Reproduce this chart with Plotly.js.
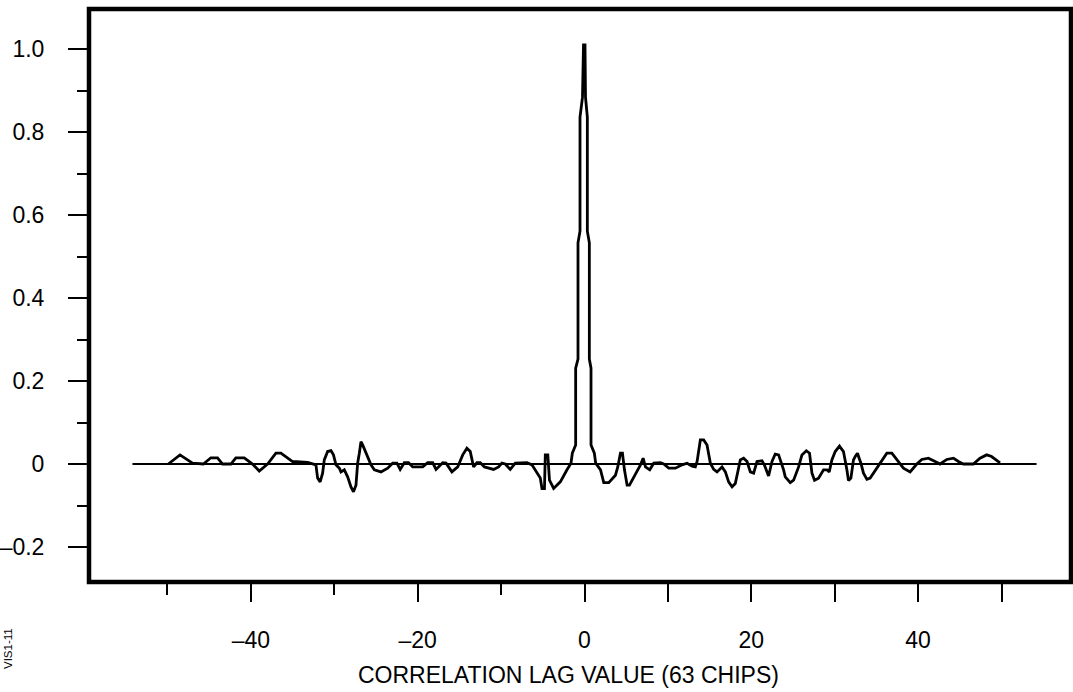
<!DOCTYPE html>
<html>
<head>
<meta charset="utf-8">
<script src="https://cdn.plot.ly/plotly-3.0.1.min.js"></script>
<style>html,body{margin:0;padding:0;background:#fff;}#chart{width:1073px;height:692px;}</style>
</head>
<body>
<div id="chart"></div>
<script>
// Correlation lag values (chips) and normalized correlation
const lagValues = [
-49.9,-48.5,-47.0,-45.7,-44.8,-44.0,-43.4,-42.4,-41.8,-40.8,-39.8,-39.0,-38.0,-37.0,-36.4,-35.0,-33.2,
-32.2,-32.0,-31.7,-31.4,-31.2,-30.8,-30.4,-30.1,-29.8,-29.4,-29.2,-28.8,-28.4,-28.0,-27.7,-27.4,-27.2,
-27.0,-26.8,-26.6,-26.2,-25.6,-25.2,-24.4,-23.6,-23.0,-22.5,-22.1,-21.6,-21.1,-20.6,-19.4,-18.8,-18.2,
-17.8,-17.0,-16.6,-15.9,-15.2,-14.6,-14.1,-13.7,-13.3,-12.9,-12.5,-12.0,-10.9,-10.3,-9.9,-9.5,-8.9,-8.3,
-6.9,-6.3,-5.3,-5.1,-4.8,-4.7,-4.4,-4.2,-3.7,-2.9,-2.1,
-1.62,-1.46,-1.06,-1.06,-0.78,-0.78,-0.54,-0.54,-0.24,-0.12,0.06,0.12,0.34,0.34,0.58,0.58,0.78,0.78,1.18,1.34,
1.92,2.31,2.91,3.71,3.99,4.31,4.55,4.79,5.11,5.39,5.71,6.71,7.03,7.31,7.82,8.30,9.10,9.50,10.10,10.90,
11.70,12.30,12.90,13.29,13.50,13.89,14.29,14.69,15.09,15.49,15.89,16.49,16.89,17.28,17.69,18.08,18.68,
19.08,19.49,19.88,20.28,20.68,21.28,21.56,22.07,22.48,22.87,23.27,23.87,24.07,24.67,25.07,25.67,26.07,
26.59,26.98,27.27,27.58,28.06,28.66,29.07,29.34,29.66,30.06,30.57,31.05,31.46,31.65,31.94,32.25,32.46,
32.73,32.93,33.14,33.45,33.86,34.25,35.05,35.65,36.25,36.85,37.64,38.24,39.04,39.84,40.44,41.23,42.04,
42.63,43.44,44.23,44.83,45.42,46.62,47.42,48.22,48.81,49.82
];
const correlation = [
0.0,0.022,0.002,0.0,0.015,0.015,0.0,0.0,0.015,0.015,0.0,-0.017,0.0,0.026,0.026,0.006,0.004,
-0.002,-0.034,-0.043,-0.022,0.010,0.030,0.032,0.022,-0.002,-0.010,-0.019,-0.014,-0.031,-0.055,-0.067,-0.051,0.002,
0.026,0.054,0.046,0.026,-0.002,-0.014,-0.019,-0.010,0.002,0.002,-0.013,0.003,0.003,-0.007,-0.007,0.003,0.003,
-0.013,0.003,0.002,-0.019,-0.007,0.022,0.038,0.030,-0.007,0.003,0.003,-0.007,-0.013,-0.007,0.002,0.0,-0.013,0.002,
0.003,-0.002,-0.034,-0.059,-0.059,0.022,0.022,-0.039,-0.059,-0.043,-0.014,
0.002,0.026,0.046,0.231,0.253,0.533,0.561,0.836,0.884,1.01,1.01,0.884,0.836,0.561,0.533,0.253,0.231,0.046,0.026,0.002,
-0.014,-0.045,-0.045,-0.027,-0.007,0.026,0.026,-0.014,-0.051,-0.051,-0.039,-0.002,0.014,-0.007,-0.014,0.002,0.003,0.0,-0.010,-0.010,
-0.002,0.002,-0.005,-0.007,0.006,0.058,0.058,0.046,0.002,-0.013,-0.019,-0.007,-0.019,-0.043,-0.055,-0.047,0.010,
0.014,0.006,-0.019,-0.022,0.006,0.008,-0.002,-0.029,0.006,0.024,0.022,-0.014,-0.031,-0.045,-0.039,-0.007,0.022,
0.032,0.026,-0.022,-0.039,-0.034,-0.014,-0.014,-0.019,0.010,0.030,0.043,0.030,-0.014,-0.040,-0.034,0.010,0.018,
0.026,0.014,0.002,-0.022,-0.037,-0.034,-0.010,0.006,0.026,0.026,0.006,-0.010,-0.019,0.0,0.011,0.014,0.006,
0.0,0.011,0.014,0.006,0.0,0.0,0.014,0.022,0.018,0.003
];
// Reference (zero) line extent
const baselineX = [-54.2, 54.2];
const baselineY = [0, 0];

// Axis ticks
const xMajorVals = [-40, -20, 0, 10, 20, 30, 40, 50];
const xMajorText = ['\u201340', '\u201320', '0', '', '20', '', '40', ''];
const xMinorVals = [-50, -30, -10];
const yMajorVals = [-0.2, 0, 0.2, 0.4, 0.6, 0.8, 1.0];
const yMajorText = ['\u20130.2', '0', '0.2', '0.4', '0.6', '0.8', '1.0'];
const yMinorVals = [-0.1, 0.1, 0.3, 0.5, 0.7, 0.9];

const W = 1073, H = 692;
const M = {l: 89, r: 2, t: 9, b: 110};
const pw = W - M.l - M.r, ph = H - M.t - M.b;
function px(x) { return (x - M.l) / pw; }
function py(y) { return (H - M.b - y) / ph; }

const FONT = 'Liberation Sans, Arial, sans-serif';

const traces = [
  {x: baselineX, y: baselineY, type: 'scatter', mode: 'lines',
   line: {color: '#000', width: 2}, hoverinfo: 'skip', showlegend: false},
  {x: lagValues, y: correlation, type: 'scatter', mode: 'lines',
   line: {color: '#000', width: 2.8, shape: 'linear'}, showlegend: false}
];

const layout = {
  width: W, height: H,
  margin: M,
  paper_bgcolor: '#fff', plot_bgcolor: '#fff',
  font: {family: FONT, color: '#000', size: 23},
  showlegend: false,
  xaxis: {
    range: [-59.41, 58.33],
    showgrid: false, zeroline: false, showline: false,
    tickmode: 'array', tickvals: xMajorVals, ticktext: xMajorText,
    ticks: 'outside', ticklen: 19, tickwidth: 2, tickcolor: '#000',
    ticklabelstandoff: 18,
    tickfont: {family: FONT, size: 23, color: '#000'},
    minor: {tickmode: 'array', tickvals: xMinorVals, ticks: 'outside', ticklen: 12, tickwidth: 2, tickcolor: '#000', showgrid: false}
  },
  yaxis: {
    range: [-0.2843, 1.0964],
    showgrid: false, zeroline: false, showline: false,
    tickmode: 'array', tickvals: yMajorVals, ticktext: yMajorText,
    ticks: 'outside', ticklen: 20, tickwidth: 2, tickcolor: '#000',
    ticklabelstandoff: 19,
    tickfont: {family: FONT, size: 23, color: '#000'},
    minor: {tickmode: 'array', tickvals: yMinorVals, ticks: 'outside', ticklen: 11, tickwidth: 2, tickcolor: '#000', showgrid: false}
  },
  shapes: [
    {type: 'rect', xref: 'paper', yref: 'paper', x0: 0, x1: 1, y0: 0, y1: 1,
     line: {color: '#000', width: 4.5}, fillcolor: 'rgba(0,0,0,0)', layer: 'above'}
  ],
  annotations: [
    {text: 'CORRELATION LAG VALUE (63 CHIPS)', xref: 'paper', yref: 'paper',
     x: px(568), y: py(675), xanchor: 'center', yanchor: 'middle', showarrow: false,
     font: {family: FONT, size: 23, color: '#000'}},
    {text: 'VIS1-11', xref: 'paper', yref: 'paper', textangle: -90,
     x: px(8), y: py(649), xanchor: 'center', yanchor: 'middle', showarrow: false,
     font: {family: FONT, size: 11.5, color: '#000'}}
  ]
};

Plotly.newPlot('chart', traces, layout, {staticPlot: true, displayModeBar: false});
</script>
</body>
</html>
